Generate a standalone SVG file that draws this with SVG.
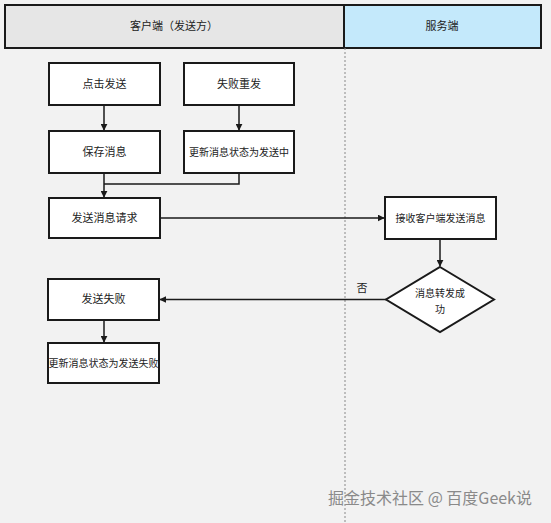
<svg xmlns="http://www.w3.org/2000/svg" width="551" height="523" viewBox="0 0 551 523">
<defs>
<style>
.box{fill:#ffffff;stroke:#1a1a1a;stroke-width:2}
.t{font-family:"Liberation Sans","Noto Sans CJK SC",sans-serif;font-size:11px;fill:#222;text-anchor:middle}
.s{font-size:10px}
.c{fill:none;stroke:#1a1a1a;stroke-width:1.5}
</style>
<marker id="ah" viewBox="0 0 10 10" refX="9" refY="5" markerWidth="7" markerHeight="7" orient="auto" markerUnits="userSpaceOnUse">
<path d="M0,0 L10,5 L0,10 Z" fill="#1a1a1a"/>
</marker>
</defs>
<rect x="0" y="0" width="551" height="523" fill="#f2f2f2"/>
<g id="lane-client">
<rect x="5" y="5" width="339" height="43" fill="#e6e6e6" stroke="#1a1a1a" stroke-width="2"/>
<text class="t" x="174" y="30">客户端（发送方）</text>
</g>
<g id="lane-server">
<rect x="344" y="5" width="197" height="43" fill="#c4e9fb" stroke="#1a1a1a" stroke-width="2"/>
<text class="t" x="442" y="30">服务端</text>
</g>
<line x1="345" y1="48" x2="345" y2="523" stroke="#888" stroke-width="1" stroke-dasharray="2,2"/>
<g id="connectors">
<path class="c" d="M104,105 V130" marker-end="url(#ah)"/>
<path class="c" d="M239,105 V130" marker-end="url(#ah)"/>
<path class="c" d="M104,173 V197" marker-end="url(#ah)"/>
<path class="c" d="M239,173 V184 H104"/>
<path class="c" d="M160,218 H384" marker-end="url(#ah)"/>
<path class="c" d="M440,239 V266" marker-end="url(#ah)"/>
<path class="c" d="M386,299.5 H160" marker-end="url(#ah)"/>
<path class="c" d="M104,320 V342" marker-end="url(#ah)"/>
<text class="t" x="362" y="292">否</text>
</g>
<g id="n1"><rect class="box" x="49" y="63" width="111" height="42"/><text class="t" x="104.5" y="88">点击发送</text></g>
<g id="n2"><rect class="box" x="184" y="63" width="110" height="42"/><text class="t" x="239" y="88">失败重发</text></g>
<g id="n3"><rect class="box" x="49" y="131" width="111" height="42"/><text class="t" x="104.5" y="156">保存消息</text></g>
<g id="n4"><rect class="box" x="184" y="131" width="110" height="42"/><text class="t s" x="239" y="156">更新消息状态为发送中</text></g>
<g id="n5"><rect class="box" x="49" y="198" width="111" height="40"/><text class="t" x="104.5" y="222">发送消息请求</text></g>
<g id="n6"><rect class="box" x="385" y="197" width="111" height="42"/><text class="t s" x="440.5" y="222">接收客户端发送消息</text></g>
<g id="n7"><path class="box" d="M440,267 L494,299.5 L440,332 L386,299.5 Z"/><text class="t s" x="440" y="297">消息转发成</text><text class="t s" x="440" y="313">功</text></g>
<g id="n8"><rect class="box" x="48" y="279" width="111" height="41"/><text class="t" x="103.5" y="303">发送失败</text></g>
<g id="n9"><rect class="box" x="48" y="343" width="111" height="40"/><text class="t s" x="103.5" y="367">更新消息状态为发送失败</text></g>
<text x="430" y="504" style="font-family:'Noto Sans CJK SC','Liberation Sans',sans-serif;font-size:16px;fill:#8a8a8a;text-anchor:middle">掘金技术社区 @ 百度Geek说</text>
</svg>
